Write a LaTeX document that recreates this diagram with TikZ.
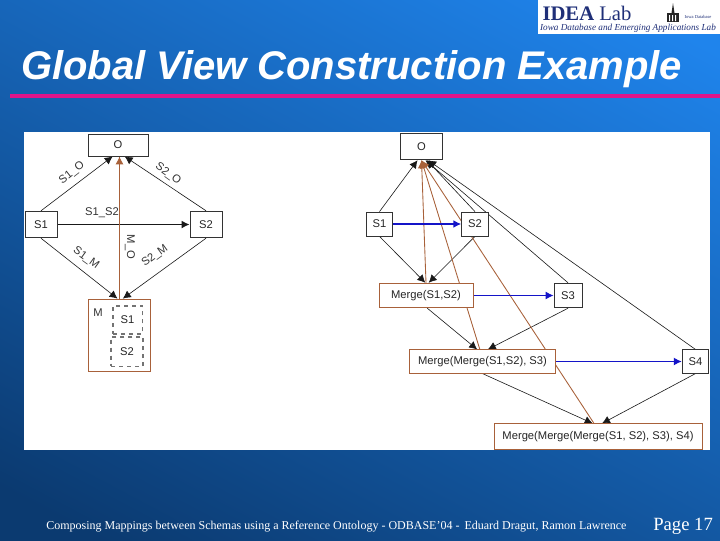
\documentclass[tikz,border=0pt]{standalone}
\usepackage{fontspec}
\setmainfont{Liberation Sans}
\newfontfamily\footfont{Liberation Serif}
\usepackage{xcolor}
\usetikzlibrary{arrows.meta,positioning,calc}
\definecolor{slidedark}{HTML}{0B3A70}
\definecolor{slidelight}{HTML}{1F84EC}
\definecolor{edgebrown}{HTML}{A8613A}
\definecolor{edgeblue}{HTML}{1414C8}
\definecolor{rulepink}{HTML}{E0148A}
\definecolor{logoblue}{HTML}{1F2F78}
\pgfdeclarelayer{edges}
\pgfdeclarelayer{slide}
\pgfsetlayers{slide,edges,main}

\begin{document}
\begin{tikzpicture}[
  x=0.75pt, y=-0.75pt,
  box/.style={draw=black!80, fill=white, line width=0.6pt, inner sep=0pt, font=\fontsize{8.4}{10}\selectfont, align=center, text=black!85},
  soft/.style={box, draw=edgebrown},
  dashbox/.style={box, draw=black!55, dashed, line width=1pt, fill=none},
  arrow/.style={-{Latex[length=2.1mm,width=2.1mm]}, line width=0.45pt, draw=black!90},
  brownarrow/.style={arrow, draw=edgebrown, line width=0.65pt},
  bluearrow/.style={arrow, draw=edgeblue, line width=0.9pt},
  lab/.style={inner sep=0pt, font=\fontsize{8.4}{10}\selectfont, text=black!80}
]
\useasboundingbox (0,0) rectangle (720,540);
% background
\begin{pgfonlayer}{slide}
\shade[bottom color=slidedark, top color=slidelight, shading angle=-28] (-60,-60) rectangle (780,600);
\fill[white] (24,132) rectangle (710,450);
\fill[rulepink] (10,94) rectangle (720,97.5);
\end{pgfonlayer}

% logo
\fill[white] (538,0) rectangle (720,34);
\node[inner sep=0pt, text=logoblue, font=\footfont\fontsize{15.5}{16}\selectfont] (idea) at (587,13) {\textbf{IDEA} Lab};
\node[inner sep=0pt, text=logoblue, font=\footfont\itshape\fontsize{6.9}{7}\selectfont] (iowa) at (628,28) {Iowa Database and Emerging Applications Lab};
\fill[black!85] (667,13) rectangle (679,22);
\fill[white] (669,15) rectangle (670,21) (672,15) rectangle (673,21) (675,15) rectangle (676,21);
\fill[black!85] (671.5,13) -- (673,3) -- (674.5,13) -- cycle;
\node[inner sep=0pt, text=logoblue, font=\footfont\fontsize{3.4}{4}\selectfont] (idaname) at (698,17) {Iowa Database};

% title and footer
\node[anchor=west, inner sep=0pt, text=white, font=\bfseries\itshape\fontsize{30}{32}\selectfont] (title) at (21,69) {Global View Construction Example};
\node[anchor=west, inner sep=0pt, text=white, font=\footfont\fontsize{9}{10}\selectfont] (foot) at (46,527) {Composing Mappings between Schemas using a Reference Ontology - ODBASE’04 -\, Eduard Dragut, Ramon Lawrence};
\node[anchor=west, inner sep=0pt, text=white, font=\footfont\fontsize{14}{16}\selectfont] (page) at (653,526) {Page 17};

% left graph
\node[box, minimum width=45pt, minimum height=16.5pt] (lo) at (118,145) {O};
\node[box, minimum width=24pt, minimum height=20pt] (ls1) at (41,224.5) {S1};
\node[box, minimum width=24pt, minimum height=20pt] (ls2) at (206,224.5) {S2};
\node[soft, minimum width=47pt, minimum height=54pt] (lm) at (119.5,335) {};
\node[lab] (lmlab) at (98,313) {M};
\node[dashbox, minimum width=22pt, minimum height=21pt] (lms1) at (127.5,320) {S1};
\node[dashbox, minimum width=24pt, minimum height=22pt] (lms2) at (127,351.5) {S2};

\begin{pgfonlayer}{edges}
\draw[arrow] (ls1.north) -- ([xshift=-4pt]lo.south);
\draw[arrow] (ls2.north) -- ([xshift=5pt]lo.south);
\draw[arrow] (ls1.south) -- ([xshift=-1.5pt]lm.north);
\draw[arrow] (ls2.south) -- ([xshift=2.5pt]lm.north);
\draw[arrow, line width=1.1pt] (ls1) -- (ls2);
\draw[brownarrow] (lm.north) -- (lm.north |- lo.south);
\end{pgfonlayer}

\node[lab, rotate=38] (s1o) at (72,173) {S1\_O};
\node[lab, rotate=-36] (s2o) at (168,174) {S2\_O};
\node[lab] (s1s2) at (102,213) {S1\_S2};
\node[lab, rotate=-90] (mo) at (130,247) {M\_O};
\node[lab, rotate=-36] (s1m) at (86,258) {S1\_M};
\node[lab, rotate=36] (s2m) at (155,256) {S2\_M};

% right graph
\node[box, minimum width=32pt, minimum height=20pt] (ro) at (421.5,146.5) {O};
\node[box, minimum width=20pt, minimum height=18pt] (rs1) at (379.5,224) {S1};
\node[box, minimum width=20pt, minimum height=18pt] (rs2) at (475,224) {S2};
\node[soft, minimum width=70.5pt, minimum height=18.5pt] (m1) at (426,295.5) {Merge(S1,S2)};
\node[box, minimum width=21pt, minimum height=18.5pt] (rs3) at (568,295.5) {S3};
\node[soft, minimum width=110pt, minimum height=17.5pt] (m2) at (482.5,361.5) {Merge(Merge(S1,S2), S3)};
\node[box, minimum width=20pt, minimum height=17.5pt] (rs4) at (695.5,361.5) {S4};
\node[soft, minimum width=156pt, minimum height=19pt] (m3) at (598,436.5) {Merge(Merge(Merge(S1, S2), S3), S4)};

\begin{pgfonlayer}{edges}
\draw[arrow] (rs1.north) -- ([xshift=-3pt]ro.south);
\draw[arrow] (rs2.north) -- ([xshift=4pt]ro.south);
\draw[arrow] (rs3.north) -- ([xshift=3pt]ro.south);
\draw[arrow] (rs4.north) -- ([xshift=5pt]ro.south);
\draw[arrow] (rs1.south) -- ([xshift=-0.5pt]m1.north);
\draw[arrow] (rs2.south) -- ([xshift=2pt]m1.north);
\draw[arrow] ([xshift=1pt]m1.south) -- ([xshift=-4pt]m2.north);
\draw[arrow] (rs3.south) -- ([xshift=4pt]m2.north);
\draw[arrow] (m2.south) -- ([xshift=-4pt]m3.north);
\draw[arrow] (rs4.south) -- ([xshift=3pt]m3.north);
\draw[brownarrow] (m1.north) -- (ro.south);
\draw[brownarrow] ([xshift=-2pt]m2.north) -- (ro.south);
\draw[brownarrow] ([xshift=-3pt]m3.north) -- (ro.south);
\draw[bluearrow, line width=1.3pt] (rs1) -- (rs2);
\draw[bluearrow] (m1) -- (rs3);
\draw[bluearrow] (m2) -- (rs4);
\end{pgfonlayer}
\end{tikzpicture}
\end{document}
